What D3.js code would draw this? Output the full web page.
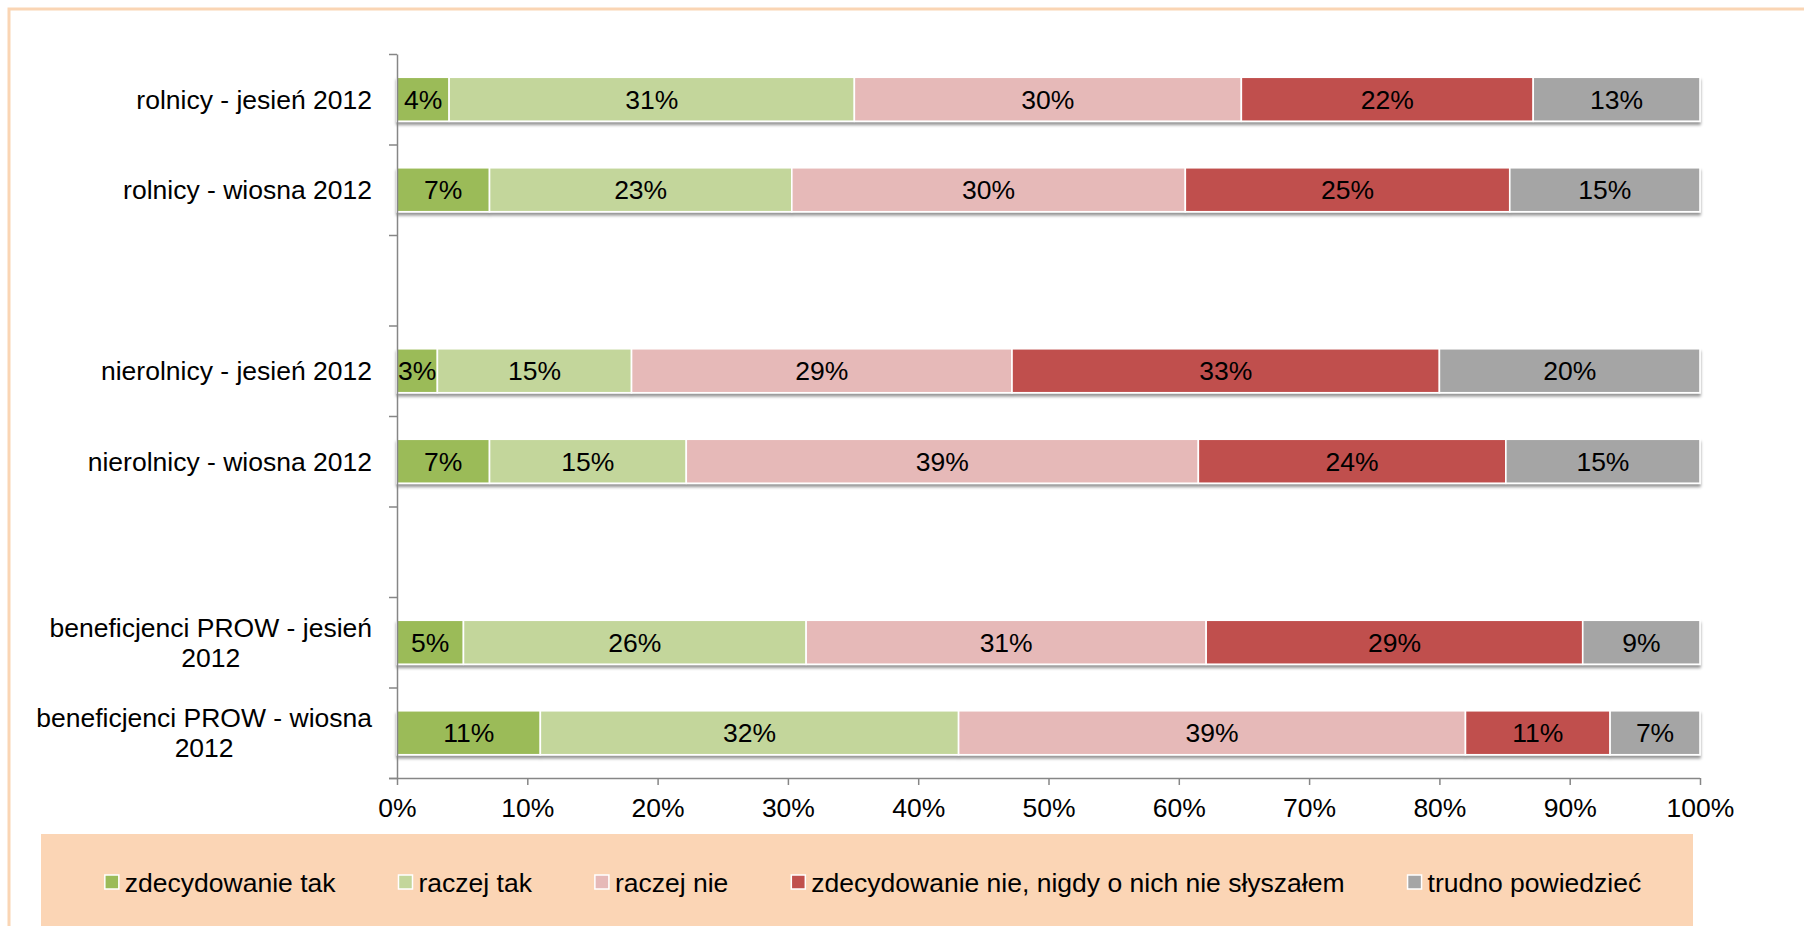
<!DOCTYPE html>
<html>
<head>
<meta charset="utf-8">
<script src="https://cdn.jsdelivr.net/npm/d3@7"></script>
<style>
  html, body { margin: 0; padding: 0; background: #ffffff; }
  svg { display: block; }
  text { font-family: "Liberation Sans", Arial, sans-serif; fill: #000; }
</style>
</head>
<body>
<svg id="chart" width="1804" height="926"></svg>
<script>
// ---------- data ----------
const categories = [
  "rolnicy - jesień 2012",
  "rolnicy - wiosna 2012",
  "nierolnicy - jesień 2012",
  "nierolnicy - wiosna 2012",
  "beneficjenci PROW - jesień 2012",
  "beneficjenci PROW - wiosna 2012"
];
// slots on the category axis (blank slots separate the groups)
const axisSlots = [
  "rolnicy - jesień 2012",
  "rolnicy - wiosna 2012",
  "gap-1",
  "nierolnicy - jesień 2012",
  "nierolnicy - wiosna 2012",
  "gap-2",
  "beneficjenci PROW - jesień 2012",
  "beneficjenci PROW - wiosna 2012"
];
const seriesNames = [
  "zdecydowanie tak",
  "raczej tak",
  "raczej nie",
  "zdecydowanie nie, nigdy o nich nie słyszałem",
  "trudno powiedzieć"
];
const zdecydowanieTak = [4.0, 7.1, 3.1, 7.1, 5.1, 11.0];
const raczejTak       = [31.1, 23.2, 14.9, 15.1, 26.3, 32.1];
const raczejNie       = [29.7, 30.2, 29.2, 39.3, 30.7, 38.9];
const zdecydowanieNie = [22.4, 24.9, 32.8, 23.6, 28.9, 11.1];
const trudnoPowiedziec = [12.8, 14.6, 20.0, 14.9, 9.0, 6.9];
const xTicks = [0, 10, 20, 30, 40, 50, 60, 70, 80, 90, 100];
const seriesColors = ["#9BBB59", "#C3D69B", "#E6B9B8", "#C0504D", "#A5A5A5"];

const seriesValues = [zdecydowanieTak, raczejTak, raczejNie, zdecydowanieNie, trudnoPowiedziec];

// ---------- layout ----------
const svg = d3.select("#chart");
const W = 1804, H = 926;
const plot = { left: 397, right: 1700, top: 54, bottom: 778 };
const FONT = 26.5;

// outer frame
svg.append("rect")
  .attr("x", 9).attr("y", 9)
  .attr("width", W + 20).attr("height", H + 20)
  .attr("fill", "#ffffff")
  .attr("stroke", "#FAD5B4").attr("stroke-width", 3);

const x = d3.scaleLinear().domain([0, 100]).range([plot.left, plot.right]);
const y = d3.scaleBand().domain(axisSlots).range([plot.top, plot.bottom]).paddingInner(0.514).paddingOuter(0.257);
const yIdx = d3.scaleLinear().domain([0, axisSlots.length]).range([plot.top, plot.bottom]);

// shadow filter
const defs = svg.append("defs");
const f = defs.append("filter").attr("id", "shadow").attr("x", "-5%").attr("y", "-30%").attr("width", "110%").attr("height", "180%");
f.append("feDropShadow").attr("dx", 0).attr("dy", 3).attr("stdDeviation", 1.8)
  .attr("flood-color", "#000").attr("flood-opacity", 0.42);

// stacked data
const rows = categories.map((c, i) => {
  let acc = 0;
  const segs = seriesValues.map((arr, s) => {
    const v = arr[i];
    const seg = { cat: c, s, v, x0: acc, x1: acc + v };
    acc += v;
    return seg;
  });
  return { cat: c, segs };
});

const barsG = svg.append("g");
rows.forEach(row => {
  const g = barsG.append("g").attr("filter", "url(#shadow)");
  g.selectAll("rect").data(row.segs).join("rect")
    .attr("x", d => x(d.x0))
    .attr("y", y(row.cat))
    .attr("width", d => x(d.x1) - x(d.x0))
    .attr("height", y.bandwidth())
    .attr("fill", d => seriesColors[d.s])
    .attr("stroke", "#ffffff").attr("stroke-width", 1.6);
});
// data labels
rows.forEach(row => {
  svg.append("g").selectAll("text").data(row.segs).join("text")
    .attr("x", d => (x(d.x0) + x(d.x1)) / 2)
    .attr("y", y(row.cat) + y.bandwidth() / 2)
    .attr("dy", "0.36em")
    .attr("text-anchor", "middle")
    .style("font-size", FONT + "px")
    .text(d => Math.round(d.v) + "%");
});

// y axis (ticks at slot boundaries)
const yAxis = d3.axisLeft(yIdx).tickValues(d3.range(axisSlots.length + 1)).tickFormat("").tickSize(8).tickSizeOuter(0);
const yg = svg.append("g").attr("transform", `translate(${plot.left},0)`).call(yAxis);
yg.selectAll("path, line").attr("stroke", "#868686").attr("stroke-width", 1.5);

// x axis
const xAxis = d3.axisBottom(x).tickValues(xTicks).tickFormat(d => d + "%").tickSize(7).tickSizeOuter(0).tickPadding(13);
const xg = svg.append("g").attr("transform", `translate(0,${plot.bottom})`).call(xAxis);
xg.selectAll("path, line").attr("stroke", "#868686").attr("stroke-width", 1.5);
xg.select(".domain").attr("d", `M${plot.left - 8},0.5H${plot.right}`);
xg.selectAll("text").style("font-size", FONT + "px").attr("fill", "#000")
  .style("font-family", '"Liberation Sans", Arial, sans-serif');

// category labels (wrap like Excel)
const labelRight = 372;
const maxLabelW = 365;
const lineH = 30;
categories.forEach(c => {
  const words = c.split(" ");
  const tmp = svg.append("text").style("font-size", FONT + "px");
  const lines = [];
  let cur = "";
  words.forEach(w => {
    const test = cur ? cur + " " + w : w;
    tmp.text(test);
    if (tmp.node().getComputedTextLength() > maxLabelW && cur) {
      lines.push(cur); cur = w;
    } else cur = test;
  });
  lines.push(cur);
  const widths = lines.map(l => { tmp.text(l); return tmp.node().getComputedTextLength(); });
  tmp.remove();
  const maxW = d3.max(widths);
  const cy = y(c) + y.bandwidth() / 2;
  const cx = labelRight - maxW / 2;
  lines.forEach((l, i) => {
    svg.append("text")
      .attr("x", lines.length > 1 ? cx : labelRight)
      .attr("text-anchor", lines.length > 1 ? "middle" : "end")
      .attr("y", cy + (i - (lines.length - 1) / 2) * lineH)
      .attr("dy", "0.36em")
      .style("font-size", FONT + "px")
      .text(l);
  });
});

// legend
const legend = { left: 41, right: 1693, top: 834, cy: 882, center: 873 };
svg.append("rect")
  .attr("x", legend.left).attr("y", legend.top)
  .attr("width", legend.right - legend.left).attr("height", H - legend.top + 10)
  .attr("fill", "#FBD5B5");

const lg = svg.append("g");
const sq = 14, sqGap = 6, itemGap = 63;
const items = seriesNames.map((n, i) => {
  const g = lg.append("g");
  g.append("rect").attr("x", 0).attr("y", legend.cy - sq / 2).attr("width", sq).attr("height", sq)
    .attr("fill", seriesColors[i]).attr("stroke", "#ffffff").attr("stroke-width", 1.5);
  const t = g.append("text").attr("x", sq + sqGap).attr("y", legend.cy).attr("dy", "0.36em")
    .style("font-size", FONT + "px").text(n);
  return { g, w: sq + sqGap + t.node().getComputedTextLength() };
});
const total = d3.sum(items, d => d.w) + itemGap * (items.length - 1);
let lx = legend.center - total / 2;
items.forEach(it => { it.g.attr("transform", `translate(${lx},0)`); lx += it.w + itemGap; });
</script>
</body>
</html>
